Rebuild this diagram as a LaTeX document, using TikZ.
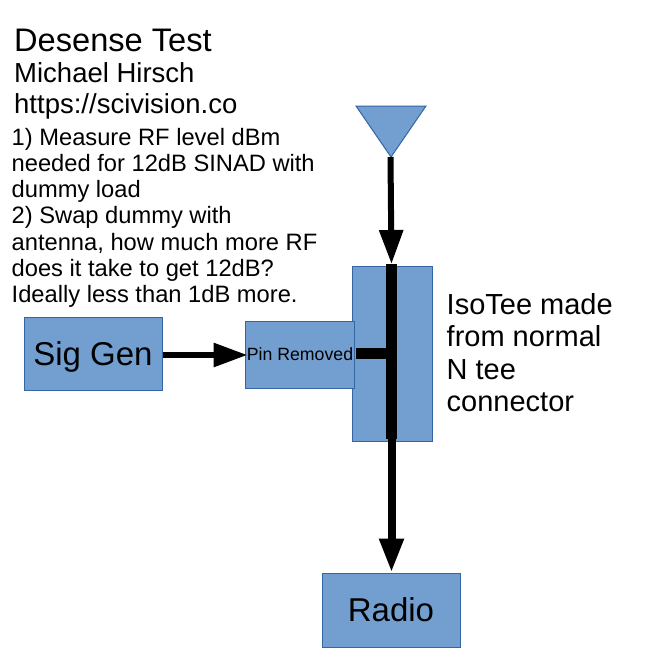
\documentclass[tikz,border=0pt]{standalone}
\usepackage{fontspec}
\setmainfont{Liberation Sans}
\usetikzlibrary{arrows.meta,positioning}
\definecolor{boxfill}{HTML}{729FCF}
\definecolor{boxline}{HTML}{3465A4}
\tikzset{
	block/.style={draw=boxline,fill=boxfill,line width=1pt,inner sep=0pt,text=black},
	feed/.style={line width=6pt,-{Triangle[length=34pt,width=23pt]}},
	bar/.style={line width=11pt},
	note/.style={anchor=base west,inner sep=0pt,align=left}
}

\begin{document}
\begin{tikzpicture}[x=1pt,y=-1pt]
	\useasboundingbox (0,0) rectangle (647,664);
	
	% draw blocks
	\node[block,minimum width=138pt,minimum height=73pt,text depth=0pt,font=\fontsize{33}{38}\selectfont] (sigGen) at (93,353.5) {Sig Gen};
	\node[block,minimum width=80pt,minimum height=175pt] (isoTee) at (392.3,353.5) {};
	\node[block,minimum width=109pt,minimum height=67pt,font=\fontsize{17.7}{20}\selectfont] (pinRemoved) at (300,354.5) {Pin Removed};
	\node[block,minimum width=138pt,minimum height=74pt,font=\fontsize{33}{38}\selectfont] (radioBox) at (391,610) {Radio};
	
	% draw antenna
	\draw[block] (356,106) -- (426,106) -- (391,157) -- cycle;
	\coordinate (antTip) at (390.5,157);
	\coordinate (teeIn) at (391.5,264);
	\coordinate (teeOut) at (391.5,439);
	\coordinate (teeMid) at (391.5,353.5);
	\coordinate (stubEnd) at (356,353.5);
	\coordinate (pinIn) at (247.5,355);
	
	% draw arrows
	\draw[feed] (sigGen.east |- pinIn) -- (pinIn);
	\draw[feed] (antTip) -- (teeIn);
	\draw[feed,line width=8pt] (teeOut) -- (radioBox.north -| teeOut);
	
	% draw tee conductor
	\draw[bar] (teeIn) -- (teeOut);
	\draw[bar] (stubEnd) -- (teeMid);
	
	% draw text
	\node[note,font=\fontsize{32.6}{37}\selectfont] (titleText) at (14,51) {Desense Test};
	\node[note,font=\fontsize{27.5}{32}\selectfont] (authorText) at (14,82) {Michael Hirsch};
	\node[note,font=\fontsize{27.5}{32}\selectfont] (urlText) at (14,113) {https://scivision.co};
	\node[note,anchor=north west,font=\fontsize{23.7}{26.2}\selectfont] (stepsText) at (11.5,128) {1) Measure RF level dBm\\needed for 12dB SINAD with\\dummy load\\2) Swap dummy with\\antenna, how much more RF\\does it take to get 12dB?\\Ideally less than 1dB more.};
	\node[note,anchor=north west,font=\fontsize{29}{32.5}\selectfont] (teeText) at (446.5,293) {IsoTee made\\from normal\\N tee\\connector};
\end{tikzpicture}
\end{document}
